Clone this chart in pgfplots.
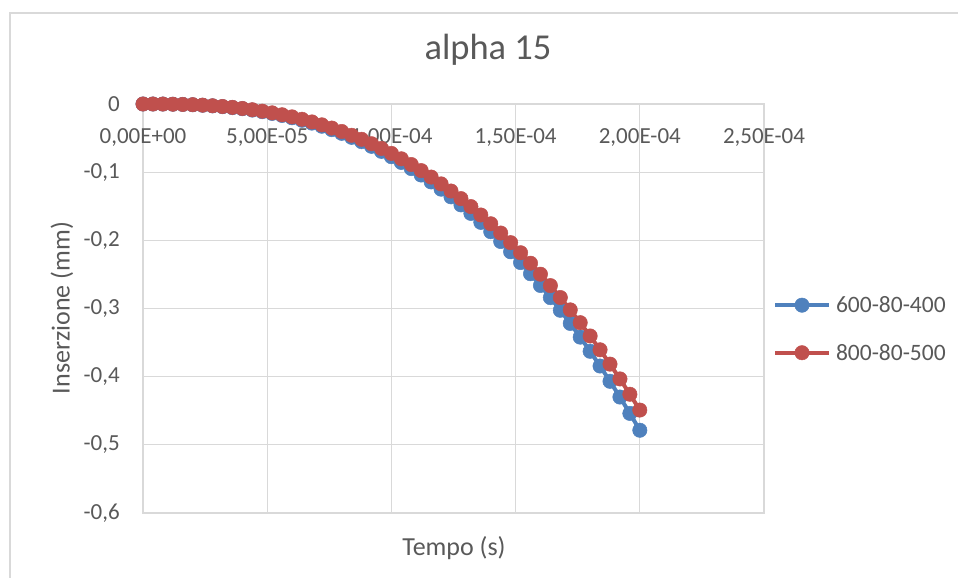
\documentclass[border=0pt]{standalone}
\usepackage{fontspec}
\setmainfont{Carlito}
\usepackage{pgfplots}
\usepackage{pgfplotstable}
\pgfplotsset{compat=1.18}
\definecolor{sblue}{HTML}{4F81BD}
\definecolor{sred}{HTML}{C0504D}
\definecolor{gridc}{HTML}{D9D9D9}
\definecolor{txt}{HTML}{595959}
\pgfplotstableread{
t blue red
0 0 0
4e-6 -0.00002 -0.00002
8e-6 -0.0001 -0.0001
12e-6 -0.0003 -0.0003
16e-6 -0.0006 -0.0006
20e-6 -0.0011 -0.0010
24e-6 -0.0018 -0.0017
28e-6 -0.0027 -0.0026
32e-6 -0.0039 -0.0036
36e-6 -0.0053 -0.0049
40e-6 -0.0069 -0.0065
44e-6 -0.0089 -0.0084
48e-6 -0.0112 -0.0105
52e-6 -0.0138 -0.0130
56e-6 -0.0168 -0.0158
60e-6 -0.0202 -0.0189
64e-6 -0.0239 -0.0224
68e-6 -0.0280 -0.0263
72e-6 -0.0326 -0.0306
76e-6 -0.0376 -0.0353
80e-6 -0.0430 -0.0403
84e-6 -0.0489 -0.0459
88e-6 -0.0552 -0.0518
92e-6 -0.0621 -0.0583
96e-6 -0.0695 -0.0652
100e-6 -0.0773 -0.0725
104e-6 -0.0857 -0.0804
108e-6 -0.0947 -0.0888
112e-6 -0.1042 -0.0977
116e-6 -0.1143 -0.1072
120e-6 -0.1249 -0.1172
124e-6 -0.1362 -0.1277
128e-6 -0.1480 -0.1388
132e-6 -0.1605 -0.1505
136e-6 -0.1736 -0.1628
140e-6 -0.1873 -0.1757
144e-6 -0.2017 -0.1893
148e-6 -0.2168 -0.2034
152e-6 -0.2326 -0.2182
156e-6 -0.2490 -0.2336
160e-6 -0.2662 -0.2497
164e-6 -0.2840 -0.2664
168e-6 -0.3026 -0.2839
172e-6 -0.3219 -0.3020
176e-6 -0.3420 -0.3208
180e-6 -0.3628 -0.3403
184e-6 -0.3844 -0.3606
188e-6 -0.4068 -0.3816
192e-6 -0.4299 -0.4033
196e-6 -0.4539 -0.4258
200e-6 -0.4786 -0.4490
}\datatab
\begin{document}
\begin{tikzpicture}[x=1pt,y=1pt]
\draw[gridc, line width=1.3pt] (10,0) -- (10,565) -- (958,565);
\begin{axis}[
  at={(143pt,65pt)}, anchor=south west,
  scale only axis, width=621pt, height=409pt,
  xmin=0, xmax=2.5e-4, ymin=-0.6, ymax=0,
  xtick={0,5e-5,1e-4,1.5e-4,2e-4,2.5e-4},
  xticklabels={{0,00E+00},{5,00E-05},{1,00E-04},{1,50E-04},{2,00E-04},{2,50E-04}},
  ytick={-0.6,-0.5,-0.4,-0.3,-0.2,-0.1,0},
  yticklabels={{-0,6},{-0,5},{-0,4},{-0,3},{-0,2},{-0,1},0},
  scaled x ticks=false, scaled y ticks=false,
  xticklabel pos=upper,
  grid=major, major grid style={gridc, line width=1.3pt},
  axis line style={gridc, line width=1.3pt},
  major tick length=0pt,
  tick label style={font=\fontsize{23}{27}\selectfont, text=txt},
  xticklabel style={anchor=north, inner sep=0pt, yshift=-24pt},
  yticklabel style={anchor=east, inner sep=0pt, xshift=-23pt},
  clip=false,
  legend image code/.code={\draw[mark repeat=2,mark phase=2,#1] plot coordinates {(0pt,0pt) (27pt,0pt) (54pt,0pt)};},
  legend style={at={(axis description cs:1.0145,0.45)}, anchor=west, draw=none, fill=none,
    inner sep=0pt, outer sep=0pt, font=\fontsize{23.5}{27}\selectfont, text=txt,
    nodes={inner sep=0pt}, column sep=5pt, row sep=30pt},
  legend cell align=left,
]
\addplot[sblue, line width=4pt, mark=*, mark size=7.2pt, mark options={fill=sblue, draw=sblue, line width=0.5pt, solid}] table[x=t, y=blue]{\datatab};
\addplot[sred, line width=4pt, mark=*, mark size=7.2pt, mark options={fill=sred, draw=sred, line width=0.5pt, solid}] table[x=t, y=red]{\datatab};
\legend{600-80-400, 800-80-500}
\end{axis}
\node[font=\fontsize{36.5}{42}\selectfont, text=txt] at (488,528) {alpha 15};
\node[font=\fontsize{26}{30}\selectfont, text=txt, rotate=90] at (62,270) {Inserzione (mm)};
\node[font=\fontsize{26}{30}\selectfont, text=txt] at (454,30) {Tempo (s)};
\pgfresetboundingbox
\path[use as bounding box] (0,0) rectangle (958,578);
\end{tikzpicture}
\end{document}
